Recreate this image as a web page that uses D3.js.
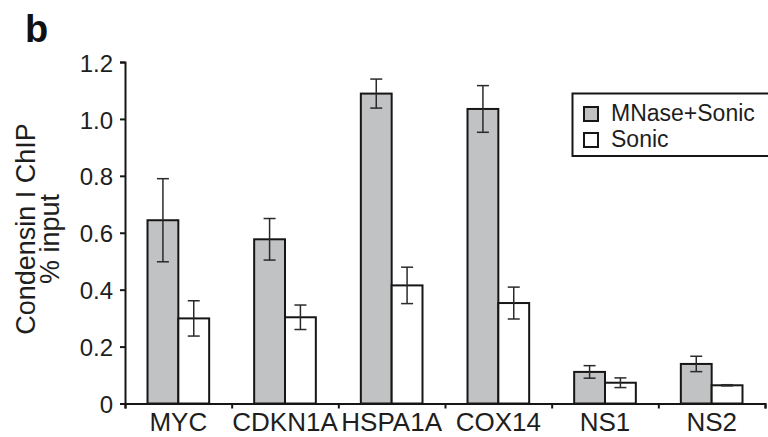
<!DOCTYPE html>
<html>
<head>
<meta charset="utf-8">
<script src="https://cdn.jsdelivr.net/npm/d3@7"></script>
<style>
  body { margin: 0; background: #fff; }
  svg { display: block; font-family: "Liberation Sans", Arial, Helvetica, sans-serif; }
</style>
</head>
<body>
<svg width="768" height="437"></svg>
<script>
// data
var categories = ["MYC", "CDKN1A", "HSPA1A", "COX14", "NS1", "NS2"];
var seriesNames = ["MNase+Sonic", "Sonic"];
var mnaseValues = [0.644, 0.577, 1.089, 1.035, 0.111, 0.139];
var mnaseErrors = [0.146, 0.073, 0.051, 0.082, 0.022, 0.027];
var sonicValues = [0.299, 0.303, 0.415, 0.353, 0.073, 0.064];
var sonicErrors = [0.062, 0.043, 0.064, 0.056, 0.017, 0.002];
var yTicks = [0, 0.2, 0.4, 0.6, 0.8, 1.0, 1.2];

var width = 768, height = 437;
var marge = {top: 62, bottom: 33.5, left: 125, right: 3};
var fills = {"MNase+Sonic": "#c1c2c4", "Sonic": "#ffffff"};
var ink = "#161616";

var svg = d3.select("svg");

// scales
var x = d3.scaleBand().domain(categories)
    .range([marge.left, width - marge.right]).padding(0);
var xEdges = d3.scaleLinear().domain([0, categories.length])
    .range([marge.left, width - marge.right]);
var xInner = d3.scaleBand().domain(seriesNames)
    .range([0, x.bandwidth()]).paddingInner(0).paddingOuter(0.73);
var y = d3.scaleLinear().domain([0, 1.2]).range([height - marge.bottom, marge.top]);

// rows for the bars
var rows = [];
categories.forEach(function(c, i){
  rows.push({cat: c, series: "MNase+Sonic", value: mnaseValues[i], err: mnaseErrors[i]});
  rows.push({cat: c, series: "Sonic", value: sonicValues[i], err: sonicErrors[i]});
});

// bars
svg.append("g").selectAll("rect")
  .data(rows)
  .enter().append("rect")
  .attr("x", function(d){ return x(d.cat) + xInner(d.series); })
  .attr("y", function(d){ return y(d.value); })
  .attr("width", xInner.bandwidth())
  .attr("height", function(d){ return y(0) - y(d.value); })
  .attr("fill", function(d){ return fills[d.series]; })
  .attr("stroke", ink)
  .attr("stroke-width", 2);

// error bars
var capHalf = 6;
var eb = svg.append("g").attr("stroke", "#2a2a2a").attr("stroke-width", 1.5)
  .selectAll("g").data(rows).enter().append("g")
  .attr("transform", function(d){ return "translate(" + (x(d.cat) + xInner(d.series) + xInner.bandwidth() / 2) + ",0)"; });
eb.append("line")
  .attr("y1", function(d){ return y(d.value + d.err); })
  .attr("y2", function(d){ return y(d.value - d.err); });
eb.append("line").attr("x1", -capHalf).attr("x2", capHalf)
  .attr("y1", function(d){ return y(d.value + d.err); })
  .attr("y2", function(d){ return y(d.value + d.err); });
eb.append("line").attr("x1", -capHalf).attr("x2", capHalf)
  .attr("y1", function(d){ return y(d.value - d.err); })
  .attr("y2", function(d){ return y(d.value - d.err); });

// y axis
var yAxis = svg.append("g")
  .attr("transform", "translate(" + marge.left + ",0)")
  .call(d3.axisLeft(y).tickValues(yTicks)
    .tickFormat(function(d){ return d === 0 ? "0" : d.toFixed(1); })
    .tickSize(5).tickPadding(7));
yAxis.selectAll("text").attr("font-size", 24).attr("dy", "0.38em").attr("fill", "#1e1e1e");

// x axis: ticks sit on the category edges, labels in the middle
var xAxis = svg.append("g")
  .attr("transform", "translate(0," + y(0) + ")")
  .call(d3.axisBottom(xEdges).tickValues(d3.range(categories.length + 1))
    .tickFormat("").tickSize(5));
var xLabels = svg.append("g")
  .attr("transform", "translate(0," + y(0) + ")")
  .call(d3.axisBottom(x).tickSize(0).tickPadding(9.5));
xLabels.select(".domain").remove();
xLabels.selectAll("text").attr("font-size", 26).attr("fill", "#1e1e1e");

svg.selectAll(".domain, .tick line").attr("stroke", ink).attr("stroke-width", 2);

// y axis title, two lines
var yTitle = svg.append("g").attr("font-size", 27).attr("fill", "#1e1e1e").attr("text-anchor", "middle");
yTitle.append("text").attr("transform", "translate(35,229) rotate(-90)").text("Condensin I ChIP");
yTitle.append("text").attr("transform", "translate(59,239) rotate(-90)").text("% input");

// panel letter
svg.append("text").attr("x", 25).attr("y", 42)
  .attr("font-size", 38).attr("font-weight", "bold").attr("fill", "#111").text("b");

// legend
var legend = svg.append("g");
legend.append("rect")
  .attr("x", 572.5).attr("y", 93.5).attr("width", 210).attr("height", 62.5)
  .attr("fill", "#fff").attr("stroke", ink).attr("stroke-width", 2);
var item = legend.selectAll(".item").data(seriesNames).enter().append("g")
  .attr("class", "item")
  .attr("transform", function(d, i){ return "translate(584," + (107 + i * 26) + ")"; });
item.append("rect").attr("width", 14).attr("height", 14)
  .attr("fill", function(d){ return fills[d]; })
  .attr("stroke", ink).attr("stroke-width", 2);
item.append("text").attr("x", 27).attr("y", 14)
  .attr("font-size", 23).attr("fill", "#1e1e1e")
  .text(function(d){ return d; });
</script>
</body>
</html>
